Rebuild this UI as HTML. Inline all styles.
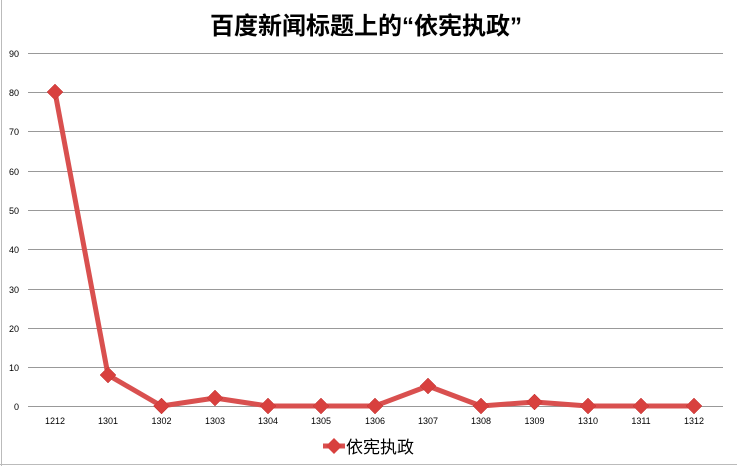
<!DOCTYPE html>
<html><head><meta charset="utf-8"><style>
html,body{margin:0;padding:0;background:#fff;}
svg{display:block;}
</style></head><body>
<svg width="737" height="466" viewBox="0 0 737 466" xmlns="http://www.w3.org/2000/svg">
<rect x="0" y="0" width="737" height="466" fill="#fff"/>
<line x1="1.5" y1="0" x2="1.5" y2="466" stroke="#bbb" stroke-width="1"/>
<line x1="0" y1="464.5" x2="737" y2="464.5" stroke="#bbb" stroke-width="1"/>
<text x="366" y="34" text-anchor="middle" font-family="'Liberation Sans','Noto Sans CJK SC',sans-serif" font-size="24" font-weight="bold" fill="#000">百度新闻标题上的“依宪执政”</text>
<g stroke="#999" stroke-width="1">
<line x1="28" y1="53.5" x2="723" y2="53.5"/>
<line x1="28" y1="92.5" x2="723" y2="92.5"/>
<line x1="28" y1="131.5" x2="723" y2="131.5"/>
<line x1="28" y1="171.5" x2="723" y2="171.5"/>
<line x1="28" y1="210.5" x2="723" y2="210.5"/>
<line x1="28" y1="249.5" x2="723" y2="249.5"/>
<line x1="28" y1="289.5" x2="723" y2="289.5"/>
<line x1="28" y1="328.5" x2="723" y2="328.5"/>
<line x1="28" y1="367.5" x2="723" y2="367.5"/>
<line x1="28" y1="406.5" x2="723" y2="406.5"/>
</g>
<g font-family="'Liberation Sans',sans-serif" font-size="9" fill="#000" text-anchor="end">
<text x="19" y="57">90</text><text x="19" y="96">80</text><text x="19" y="135">70</text>
<text x="19" y="175">60</text><text x="19" y="214">50</text><text x="19" y="253">40</text>
<text x="19" y="293">30</text><text x="19" y="332">20</text><text x="19" y="371">10</text>
<text x="19" y="410">0</text>
</g>
<g font-family="'Liberation Sans',sans-serif" font-size="9" fill="#000" text-anchor="middle">
<text x="55" y="424">1212</text><text x="108" y="424">1301</text><text x="161.5" y="424">1302</text>
<text x="215" y="424">1303</text><text x="268" y="424">1304</text><text x="321" y="424">1305</text>
<text x="375" y="424">1306</text><text x="428" y="424">1307</text><text x="481" y="424">1308</text>
<text x="534.5" y="424">1309</text><text x="588" y="424">1310</text><text x="641" y="424">1311</text>
<text x="694" y="424">1312</text>
</g>
<polyline fill="none" stroke="#d9504f" stroke-width="5" stroke-linejoin="round" points="55,92 108,375 161.5,406 215,398 268,406 321,406 375,406 428,386 481,406 534.5,402 588,406 641,406 694,406"/>
<g fill="#d8403e" stroke="#c03533" stroke-width="0.5">
<path d="M55,84 L63,92 L55,100 L47,92Z"/>
<path d="M108,367 L116,375 L108,383 L100,375Z"/>
<path d="M161.5,398 L169.5,406 L161.5,414 L153.5,406Z"/>
<path d="M215,390 L223,398 L215,406 L207,398Z"/>
<path d="M268,398 L276,406 L268,414 L260,406Z"/>
<path d="M321,398 L329,406 L321,414 L313,406Z"/>
<path d="M375,398 L383,406 L375,414 L367,406Z"/>
<path d="M428,378 L436,386 L428,394 L420,386Z"/>
<path d="M481,398 L489,406 L481,414 L473,406Z"/>
<path d="M534.5,394 L542.5,402 L534.5,410 L526.5,402Z"/>
<path d="M588,398 L596,406 L588,414 L580,406Z"/>
<path d="M641,398 L649,406 L641,414 L633,406Z"/>
<path d="M694,398 L702,406 L694,414 L686,406Z"/>
</g>
<line x1="323" y1="446" x2="345" y2="446" stroke="#d9504f" stroke-width="5"/>
<path d="M334,438 L342,446 L334,454 L326,446Z" fill="#d8403e"/>
<text x="346" y="453" font-family="'Liberation Sans','Noto Sans CJK SC',sans-serif" font-size="17" fill="#000">依宪执政</text>
</svg>
</body></html>
